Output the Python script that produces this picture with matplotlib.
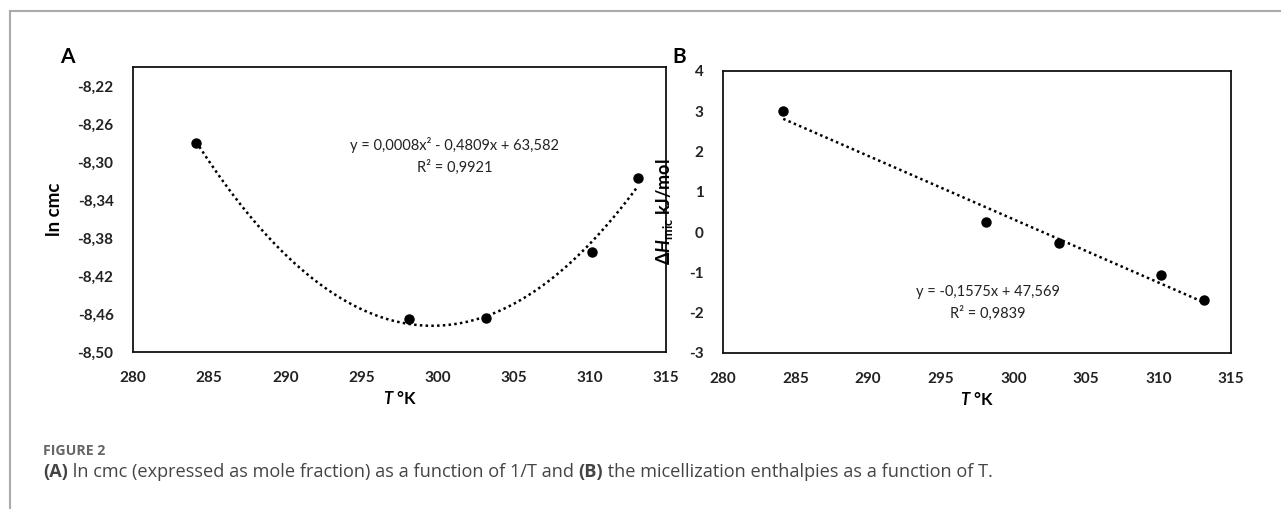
import numpy as np
import matplotlib
matplotlib.use('Agg')
import matplotlib.pyplot as plt
from matplotlib.lines import Line2D

plt.rcParams['font.family'] = ['Lato', 'DejaVu Sans']
plt.rcParams['axes.unicode_minus'] = False
plt.rcParams['mathtext.fontset'] = 'custom'
plt.rcParams['mathtext.rm'] = 'Lato:bold'
plt.rcParams['mathtext.it'] = 'Lato:italic:bold'
plt.rcParams['mathtext.bf'] = 'Lato:bold'

# data
temps = [284.15, 298.15, 303.15, 310.15, 313.15]
ln_cmc = [-8.280, -8.465, -8.464, -8.395, -8.317]
dh_mic = [3.01, 0.26, -0.28, -1.07, -1.69]

eq_a = 'y = 0,0008x² - 0,4809x + 63,582\nR² = 0,9921'
eq_b = 'y = -0,1575x + 47,569\nR² = 0,9839'

W, H = 1281, 509
fig = plt.figure(figsize=(W / 100, H / 100), dpi=100)

def box(l, t, r, b):
    return [l / W, 1 - b / H, (r - l) / W, (b - t) / H]

ax1 = fig.add_axes(box(133, 67, 666, 352))
ax2 = fig.add_axes(box(723, 71, 1231, 353))

tt = np.linspace(min(temps), max(temps), 200)

# panel A
c2 = np.polyfit(temps, ln_cmc, 2)
ax1.plot(tt, np.polyval(c2, tt), color='black', ls=(0, (1, 1.3)), lw=1.8)
ax1.plot(temps, ln_cmc, 'o', color='black', ms=6.5)
ax1.set_xlim(280, 315)
ax1.set_ylim(-8.50, -8.20)
yt = np.arange(-8.50, -8.215, 0.04)
ax1.set_yticks(yt)
ax1.set_yticklabels([f'{v:.2f}'.replace('.', ',') for v in yt])
ax1.set_ylabel('ln cmc', fontsize=13.5, fontweight='bold')
ax1.yaxis.set_label_coords(-0.131, 0.5)
ax1.text(0.604, 0.687, eq_a, transform=ax1.transAxes, ha='center', va='center',
         fontsize=10.5, linespacing=1.55, color='#222222')

# panel B
c1 = np.polyfit(temps, dh_mic, 1)
ax2.plot(tt, np.polyval(c1, tt), color='black', ls=(0, (1, 1.3)), lw=1.8)
ax2.plot(temps, dh_mic, 'o', color='black', ms=6.5)
ax2.set_xlim(280, 315)
ax2.set_ylim(-3, 4)
ax2.set_yticks(range(-3, 5))
ax2.set_ylabel(r'$\Delta \mathit{H}_{\mathrm{mic}}$ kJ/mol', fontsize=13, fontweight='bold')
ax2.yaxis.set_label_coords(-0.095, 0.5)
ax2.text(0.522, 0.177, eq_b, transform=ax2.transAxes, ha='center', va='center',
         fontsize=10.5, linespacing=1.55, color='#222222')

for ax in (ax1, ax2):
    ax.set_xticks(range(280, 320, 5))
    ax.set_xlabel(r'$\mathit{T}$ °K', fontsize=12, fontweight='bold', labelpad=3)
    ax.tick_params(length=0, labelsize=11, pad=14, colors='#222222')
    for lab in ax.get_xticklabels() + ax.get_yticklabels():
        lab.set_fontweight('bold')
    for s in ax.spines.values():
        s.set_linewidth(1.3)
        s.set_color('#111111')

fig.text(67 / W, 1 - 57 / H, 'A', fontsize=15, fontweight='bold', ha='center', va='center')
fig.text(679 / W, 1 - 57 / H, 'B', fontsize=15, fontweight='bold', ha='center', va='center')

# outer frame
fig.add_artist(Line2D([10 / W, 1], [1 - 11 / H, 1 - 11 / H], color='#aaaaaa', lw=1.5))
fig.add_artist(Line2D([10 / W, 10 / W], [0, 1 - 11 / H], color='#aaaaaa', lw=1.5))

# caption
fig.text(43 / W, 1 - 451 / H, 'FIGURE 2', fontsize=10.2, fontweight='bold', color='#666666',
         va='center', family='Open Sans')
parts = [('(A)', 'bold'), (' ln cmc (expressed as mole fraction) as a function of 1/T and ', 'normal'),
         ('(B)', 'bold'), (' the micellization enthalpies as a function of T.', 'normal')]
renderer = fig.canvas.get_renderer()
x = 43 / W
for s, w in parts:
    t = fig.text(x, 1 - 472 / H, s, fontsize=13.1, fontweight=w, color='#444444',
                 va='center', family='Open Sans')
    bb = t.get_window_extent(renderer)
    x += bb.width / W

fig.savefig('out.png', dpi=100)
